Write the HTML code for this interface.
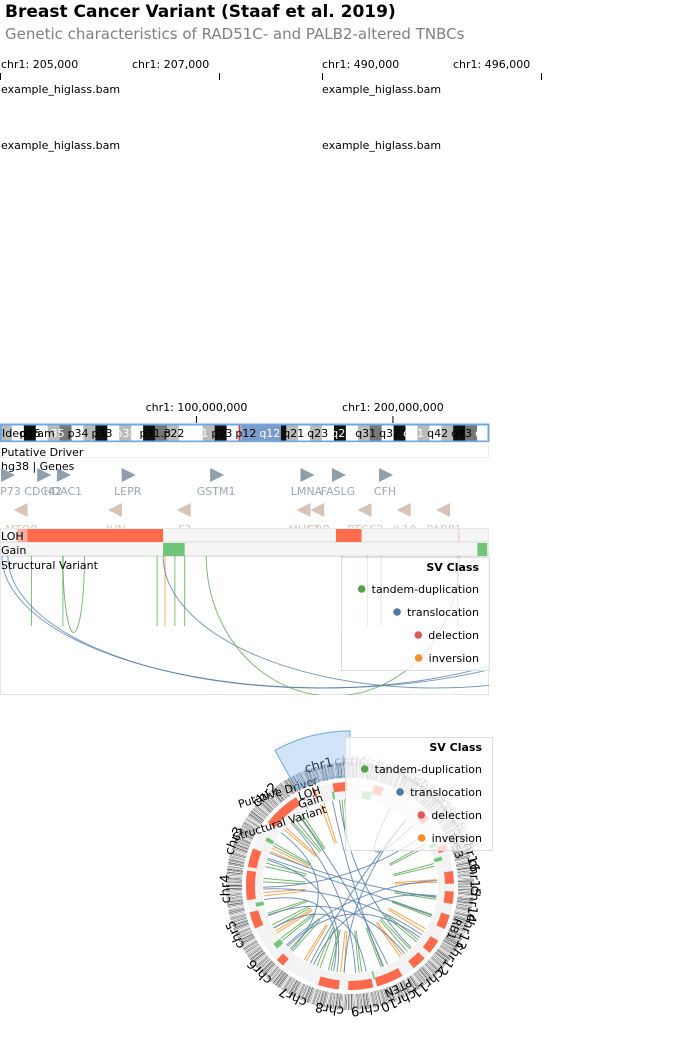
<!DOCTYPE html>
<html><head><meta charset="utf-8">
<style>
body{margin:0;background:#fff;width:684px;height:1040px;overflow:hidden;font-family:"Liberation Sans","DejaVu Sans",sans-serif}
svg{position:absolute;left:0;top:0}
text{font-family:"DejaVu Sans","Liberation Sans",sans-serif}
</style></head><body>
<svg id="s" width="684" height="1040">
<text x="5" y="17" font-size="17" font-weight="bold" fill="#000">Breast Cancer Variant (Staaf et al. 2019)</text>
<text x="5" y="39" font-size="15" fill="#808080">Genetic characteristics of RAD51C- and PALB2-altered TNBCs</text>
<g font-size="11" fill="#000">
<text x="1" y="68">chr1: 205,000</text><text x="132" y="68">chr1: 207,000</text>
<line x1="0.5" y1="73" x2="0.5" y2="80" stroke="#000"/><line x1="219.5" y1="73" x2="219.5" y2="80" stroke="#000"/>
<text x="1" y="93">example_higlass.bam</text><text x="1" y="149">example_higlass.bam</text>
<text x="322" y="68">chr1: 490,000</text><text x="453" y="68">chr1: 496,000</text>
<line x1="322.5" y1="73" x2="322.5" y2="80" stroke="#000"/><line x1="541.5" y1="73" x2="541.5" y2="80" stroke="#000"/>
<text x="322" y="93">example_higlass.bam</text><text x="322" y="149">example_higlass.bam</text>
</g>
<g id="lin"></g>
<g id="circ"></g>
</svg>
<script>
// ---------- data ----------
const chrNames=['chr1','chr2','chr3','chr4','chr5','chr6','chr7','chr8','chr9','chr10','chr11','chr12','chr13','chr14','chr15','chr16','chr17','chr18','chr19','chr20','chr21','chr22','chrX','chrY','chrM'];
const chrSizes=[248,242,198,190,181,171,159,145,138,134,135,133,114,107,102,90,83,80,59,64,47,51,156,57,1];
const axisTicks=[100,200];
const axisLabels=['chr1: 100,000,000','chr1: 200,000,000'];
const bandStains='gwkwgdwgkwgwkdgwwgkwgwdkgwgwkwgdwkwgwgkdw';
const fwdGenes=['TP73','CDC42','HDAC1','LEPR','GSTM1','LMNA','FASLG','CFH'];
const fwdPos=[3.6,22,32,65,110,156,172,196];
const revGenes=['MTOR','JUN','F3','MUC1','CRP','PTGS2','IL10','PARP1'];
const revPos=[11,59,94,155,162,186,206,226];
const lohChr1=[[9,14,0.5],[14,83,1],[171,184,1],[233,234,0.2]];
const gainChr1=[[83,94],[243,248]];
const svStart=[16,32,80,84,89,94,174,187,194,233,1,4,83,105,32];
const svEnd=[16,32,80,84,89,94,174,187,194,233,330,320,360,234,43];
const svClass=['tandem-duplication','tandem-duplication','tandem-duplication','inversion','tandem-duplication','tandem-duplication','tandem-duplication','tandem-duplication','tandem-duplication','tandem-duplication','translocation','translocation','translocation','tandem-duplication','tandem-duplication'];
const classNames=['tandem-duplication','translocation','delection','inversion'];
const classColors=['#57a14d','#4e79a7','#e15759','#f28e2b'];
// circular
const lohChr=[1,1,2,3,4,5,6,8,9,10,11,12,13,14,15,17,19,23];
const lohS=[14,171,20,100,10,20,100,0,0,0,60,30,30,40,30,0,10,50];
const lohE=[83,184,200,190,150,100,140,100,120,130,130,100,100,100,90,30,50,100];
const gainChr=[1,1,3,4,6,9,16,23,17];
const gainS=[83,243,20,170,30,130,50,100,40];
const gainE=[94,248,40,190,60,138,70,150,60];
const drvGenes=['TP53','PTEN','RB1'];
const drvChr=[17,10,13];
const drvPos=[7.6,87,48];
const cSvChrA=[1,1,2,2,2,3,3,3,4,4,5,5,5,6,6,7,7,8,8,9,10,11,11,12,12,13,14,15,16,17,2,3,5,8,10,12,6,1,4,7,9,11,14,3,18,20,22,2,4];
const cSvPosA=[30,150,40,90,160,30,60,150,40,120,50,120,160,30,110,40,120,30,100,60,50,40,90,30,100,60,50,40,30,60,120,90,60,80,90,60,80,100,100,80,100,120,70,120,40,30,30,200,160];
const cSvChrB=[1,1,2,2,2,3,3,3,4,4,5,5,5,6,6,7,7,8,8,9,10,11,11,12,12,13,14,15,16,17,9,14,11,3,2,6,15,10,12,20,5,1,7,13,4,8,19,6,8];
const cSvPosB=[45,170,55,110,175,45,80,170,60,140,65,140,175,45,130,55,140,45,120,75,65,55,110,45,120,75,65,55,45,75,40,60,70,130,60,90,50,60,80,30,140,60,100,70,90,120,40,120,60];
const cSvClass=[0,3,0,0,3,0,3,0,0,3,0,0,3,0,0,3,0,0,3,0,0,3,0,0,3,0,0,3,0,0,1,1,1,1,1,1,1,1,1,1,1,1,1,1,1,1,1,1,1];

// ---------- helpers ----------
const NS='http://www.w3.org/2000/svg';
function mk(tag,attrs,parent){const e=document.createElementNS(NS,tag);for(const k in attrs)e.setAttribute(k,attrs[k]);parent.appendChild(e);return e;}
const lin=document.getElementById('lin');
const X0=0,X1=489;
const xs=mb=>X0+mb*(X1-X0)/248.9;

axisTicks.forEach((t,i)=>{
  const l=mk('line',{x1:xs(t),x2:xs(t),y1:416,y2:423,stroke:'#000'},lin);
  
  
  const tx=mk('text',{x:xs(t),y:411,'font-size':11,'text-anchor':'middle'},lin);tx.textContent=axisLabels[i];
  
  
});
const stainCol={w:'#fff',g:'#bbb',d:'#777',k:'#111'};
const ideo=mk('g',{},lin);


const nb=bandStains.length;
for(let i=0;i<nb;i++){
  const s=248.9*i/nb,e=248.9*(i+1)/nb;
  mk('rect',{x:xs(s),y:424,width:xs(e)-xs(s)+0.3,height:17,fill:stainCol[bandStains[i]]},ideo);
}
mk('rect',{x:xs(123),y:424,width:xs(143)-xs(123),height:17,fill:'#7a9bcb'},ideo);
mk('rect',{x:xs(121.5),y:424,width:1.5,height:17,fill:'#d33'},ideo);
const bl='p36 p35 p34 p33 p32 p31.3 p22 p21 p13 p12 q12 q21 q23 q25 q31 q32 q41 q42 q43 q44'.split(' ');
bl.forEach((b,i)=>{const t=mk('text',{x:xs(10+i*12.2),y:437,'font-size':11,fill:i%3==1?'#fff':'#000'},ideo);t.textContent=b;});
mk('rect',{x:1,y:424.5,width:487.5,height:17,fill:'none',stroke:'#6fa8dc','stroke-width':2},ideo);
mk('text',{x:2,y:437,'font-size':11},ideo).textContent='Ideogram';
const pd=mk('g',{},lin);


mk('rect',{x:0.5,y:442.5,width:488,height:15,fill:'#fff',stroke:'#eee'},pd);
mk('text',{x:1,y:456,'font-size':11},pd).textContent='Putative Driver';
mk('text',{x:1,y:470,'font-size':11},lin).textContent='hg38 | Genes';
fwdGenes.forEach((g,i)=>{
  const x=xs(fwdPos[i]);
  const tr=mk('polygon',{points:`${x-6},468 ${x+8},475 ${x-6},482`,fill:'#8e9eac'},lin);
  
  
  const t=mk('text',{x:x,y:495,'font-size':11,'text-anchor':'middle',fill:'#9aa8b6'},lin);t.textContent=g;
});
revGenes.forEach((g,i)=>{
  const x=xs(revPos[i]);
  const tr=mk('polygon',{points:`${x+6},503 ${x-8},510 ${x+6},517`,fill:'#d6c4b8'},lin);
  
  
  const t=mk('text',{x:x,y:533,'font-size':11,'text-anchor':'middle',fill:'#d8c8bc'},lin);t.textContent=g;
});
const loh=mk('g',{},lin);


mk('rect',{x:0.5,y:528.5,width:488,height:13,fill:'#f5f5f5',stroke:'#e8e8e8'},loh);
lohChr1.forEach(d=>{mk('rect',{x:xs(d[0]),y:529,width:Math.max(0.8,xs(d[1])-xs(d[0])),height:13,fill:'#fe6b4c','fill-opacity':d[2]},loh);});
mk('text',{x:1,y:540,'font-size':11},loh).textContent='LOH';
const gain=mk('g',{},lin);


mk('rect',{x:0.5,y:542.5,width:488,height:13,fill:'#f5f5f5',stroke:'#e8e8e8'},gain);
gainChr1.forEach(d=>{mk('rect',{x:xs(d[0]),y:543,width:xs(d[1])-xs(d[0]),height:13,fill:'#72c576'},gain);});
mk('text',{x:1,y:554,'font-size':11},gain).textContent='Gain';
mk('clipPath',{id:'svclip'},lin).appendChild(document.createElementNS(NS,'rect'));
const cr=document.querySelector('#svclip rect');cr.setAttribute('x',0);cr.setAttribute('y',556);cr.setAttribute('width',489);cr.setAttribute('height',139);
mk('rect',{x:0.5,y:556.5,width:488,height:138,fill:'#fff',stroke:'#e5e5e5'},lin);
const sv=mk('g',{'clip-path':'url(#svclip)'},lin);


svStart.forEach((s,i)=>{
  const x1=xs(s),x2=xs(svEnd[i]);const span=x2-x1;
  const col=classColors[classNames.indexOf(svClass[i])];
  let d;
  if(span<1){d=`M${x1},556 L${x1},626`;}
  else{const ry=span>300?132:Math.min(140,70+span*0.3);d=`M${x1},556 A${span/2},${ry} 0 0 0 ${x2},556`;}
  const p=mk('path',{d:d,fill:'none',stroke:col,'stroke-width':1,'stroke-opacity':0.75},sv);
  
  
});
mk('text',{x:1,y:569,'font-size':11},lin).textContent='Structural Variant';
function legend(parent,x,y,w,h){
  const g=mk('g',{},parent);
  
  
  mk('rect',{x:x+0.5,y:y+0.5,width:w,height:h,fill:'#fff','fill-opacity':0.75,stroke:'#ddd'},g);
  mk('text',{x:x+w-10,y:y+14,'font-size':11,'font-weight':'bold','text-anchor':'end'},g).textContent='SV Class';
  classNames.forEach((c,i)=>{
    const yy=y+32+i*23;
    const t=mk('text',{x:x+w-10,y:yy+4,'font-size':11,'text-anchor':'end'},g);t.textContent=c;
    const tw=t.getComputedTextLength();
    mk('circle',{cx:x+w-10-tw-10,cy:yy,r:3.8,fill:classColors[i]},g);
  });
}
legend(lin,341,557,148,113);

// ---------- circular ----------
const circ=document.getElementById('circ');
const CX=350,CY=886;
const total=chrSizes.reduce((a,b)=>a+b,0);
const cum=[];let acc=0;chrSizes.forEach(s=>{cum.push(acc);acc+=s;});
const ang=(ci,pos)=>-2*Math.PI*(cum[ci]+pos)/total;
const pt=(a,r)=>[CX+r*Math.sin(a),CY-r*Math.cos(a)];
function arcPath(a1,a2,r1,r2){
  const [x1,y1]=pt(a1,r2),[x2,y2]=pt(a2,r2),[x3,y3]=pt(a2,r1),[x4,y4]=pt(a1,r1);
  const lg=Math.abs(a2-a1)>Math.PI?1:0;const sw=a2>a1?1:0;
  return `M${x1},${y1}A${r2},${r2} 0 ${lg} ${sw} ${x2},${y2}L${x3},${y3}A${r1},${r1} 0 ${lg} ${1-sw} ${x4},${y4}Z`;
}
mk('circle',{cx:CX,cy:CY,r:96,fill:'none',stroke:'#f3f3f3','stroke-width':16},circ);
const ci=mk('g',{},circ);


chrSizes.forEach((sz,c)=>{
  const n=Math.max(1,Math.round(sz/1.6));
  for(let i=0;i<n;i++){
    const st=bandStains[(i*7+c*3)%nb];
    mk('path',{d:arcPath(ang(c,sz*i/n),ang(c,sz*(i+1)/n),108,124),fill:stainCol[st]},ci);
  }
});
chrSizes.forEach((sz,c)=>{
  const la=ang(c,sz/2);const [lx,ly]=pt(la,124);
  const deg=la*180/Math.PI;
  const t=mk('text',{x:lx,y:ly,'font-size':13,'text-anchor':'middle','dominant-baseline':'middle',transform:`rotate(${deg} ${lx} ${ly})`},ci);
  t.textContent=chrNames[c];
  if(c>=16)t.setAttribute('fill-opacity',0.35);
});
mk('circle',{cx:CX,cy:CY,r:106,fill:'none',stroke:'#fff','stroke-width':4},circ);
const cl=mk('g',{},circ);


lohChr.forEach((c,i)=>{mk('path',{d:arcPath(ang(c-1,lohS[i]),ang(c-1,lohE[i]),95,104),fill:'#fe6b4c'},cl);});
const cg=mk('g',{},circ);


gainChr.forEach((c,i)=>{mk('path',{d:arcPath(ang(c-1,gainS[i]),ang(c-1,gainE[i]),88,96),fill:'#72c576'},cg);});
drvGenes.forEach((g,i)=>{
  const a=ang(drvChr[i]-1,drvPos[i]);const [x,y]=pt(a,112);
  const t=mk('text',{x:x,y:y,'font-size':11,'text-anchor':'middle','dominant-baseline':'middle',transform:`rotate(${a*180/Math.PI} ${x} ${y})`},circ);
  t.textContent=g;
  
  
});
const cs=mk('g',{},circ);


cSvChrA.forEach((c,i)=>{
  const a1=ang(c-1,cSvPosA[i]),a2=ang(cSvChrB[i]-1,cSvPosB[i]);
  const [x1,y1]=pt(a1,87),[x2,y2]=pt(a2,87);
  let d;
  if(cSvClass[i]==1){d=`M${x1},${y1}Q${CX},${CY} ${x2},${y2}`;}
  else{const [m1,n1]=pt(a1,45),[m2,n2]=pt(a2,45);d=`M${x1},${y1}L${m1},${n1}M${x2},${y2}L${m2},${n2}`;}
  const p=mk('path',{d:d,fill:'none',stroke:classColors[cSvClass[i]],'stroke-width':1,'stroke-opacity':0.8},cs);
  
  
});
[['Putative Driver',110],['LOH',100],['Gain',92],['Structural Variant',80]].forEach(([t,r],i)=>{
  const a=-0.3;const [x,y]=pt(a,r);
  const e=mk('text',{x:x,y:y,'font-size':11,'text-anchor':'end','dominant-baseline':'middle',transform:`rotate(${a*180/Math.PI} ${x} ${y})`},circ);e.textContent=t;
});
const br=mk('path',{d:arcPath(ang(0,0),ang(0,248),110,155),fill:'#7fb4ec','fill-opacity':0.35,stroke:'#6fa8dc','stroke-width':1},circ);


legend(circ,345,737,147,113);
</script>
</body></html>
